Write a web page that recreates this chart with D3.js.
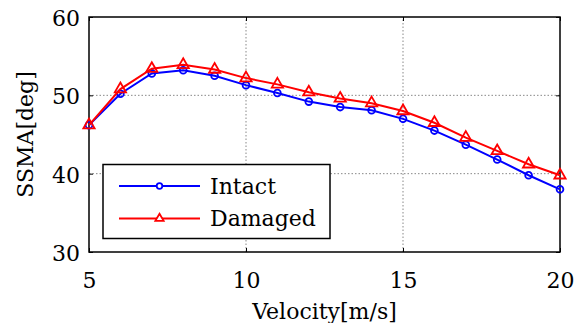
<!DOCTYPE html>
<html><head><meta charset="utf-8">
<script src="https://cdn.jsdelivr.net/npm/d3@7"></script>
</head><body style="margin:0;padding:0;background:#fff">
<svg id="chart" width="581" height="323" font-family="DejaVu Serif" font-size="22"></svg>
<script>
const velocity = [5,6,7,8,9,10,11,12,13,14,15,16,17,18,19,20];
const intact   = [46.2,50.2,52.8,53.2,52.5,51.3,50.3,49.2,48.5,48.1,47.0,45.5,43.7,41.8,39.8,38.0];
const damaged  = [46.2,50.8,53.4,53.9,53.3,52.2,51.4,50.4,49.6,49.0,48.0,46.5,44.6,42.9,41.2,39.8];
const xTicks = [5,10,15,20];
const yTicks = [30,40,50,60];
const seriesNames = ["Intact","Damaged"];
const seriesColors = ["#0000ff","#ff0000"];

const W=581,H=323;
const m={l:89,r:21,t:17,b:71};
const svg=d3.select("#chart");
const x=d3.scaleLinear().domain([5,20]).range([m.l,W-m.r]);
const y=d3.scaleLinear().domain([30,60]).range([H-m.b,m.t]);
function txt(sel){ return sel.attr("font-family","DejaVu Serif").attr("font-size",22).attr("fill","#000"); }

// grid
svg.selectAll(".gx").data(xTicks.slice(1,-1)).enter().append("line")
 .attr("x1",d=>x(d)).attr("x2",d=>x(d)).attr("y1",y(30)).attr("y2",y(60))
 .attr("stroke","#888").attr("stroke-width",1).attr("stroke-dasharray","1.5,2");
svg.selectAll(".gy").data(yTicks.slice(1,-1)).enter().append("line")
 .attr("y1",d=>y(d)).attr("y2",d=>y(d)).attr("x1",x(5)).attr("x2",x(20))
 .attr("stroke","#888").attr("stroke-width",1).attr("stroke-dasharray","1.5,2");

// axes
const xa=d3.axisBottom(x).tickValues(xTicks).tickSize(-4).tickPadding(20).tickFormat(d3.format("d"));
const ya=d3.axisLeft(y).tickValues(yTicks).tickSize(-4).tickPadding(9).tickFormat(d3.format("d"));
const xg=svg.append("g").attr("transform",`translate(0,${y(30)})`).call(xa);
const yg=svg.append("g").attr("transform",`translate(${x(5)},0)`).call(ya);
svg.append("g").attr("transform",`translate(0,${y(60)})`).call(d3.axisTop(x).tickValues(xTicks).tickSize(-4).tickFormat(""));
svg.append("g").attr("transform",`translate(${x(20)},0)`).call(d3.axisRight(y).tickValues(yTicks).tickSize(-4).tickFormat(""));
svg.selectAll(".domain").remove();
svg.selectAll("g").attr("font-family","DejaVu Serif").attr("font-size",22);
svg.selectAll(".tick line").attr("stroke","#000").attr("stroke-width",1);
txt(svg.selectAll(".tick text"));
yg.selectAll(".tick text").attr("dy","0.38em");
svg.append("rect").attr("x",x(5)).attr("y",y(60)).attr("width",x(20)-x(5)).attr("height",y(30)-y(60))
 .attr("fill","none").attr("stroke","#000").attr("stroke-width",1.5);

// lines
const data=[intact,damaged];
const line=d3.line().x((d,i)=>x(velocity[i])).y(d=>y(d));
const tri=d3.symbol().type(d3.symbolTriangle).size(55);
const triS=d3.symbol().type(d3.symbolTriangle).size(30);
data.forEach((s,k)=>{
  svg.append("path").datum(s).attr("d",line).attr("fill","none").attr("stroke",seriesColors[k]).attr("stroke-width",2);
  if(k===0){
    svg.selectAll(".c").data(s).enter().append("circle").attr("cx",(d,i)=>x(velocity[i])).attr("cy",d=>y(d))
      .attr("r",3.4).attr("fill","none").attr("stroke",seriesColors[k]).attr("stroke-width",1.8);
  } else {
    svg.selectAll(".t").data(s).enter().append("path").attr("d",tri)
      .attr("transform",(d,i)=>`translate(${x(velocity[i])},${y(d)})`)
      .attr("fill","none").attr("stroke",seriesColors[k]).attr("stroke-width",1.8);
  }
});

// labels
txt(svg.append("text").attr("x",(x(5)+x(20))/2).attr("y",319).attr("text-anchor","middle")).text("Velocity[m/s]");
txt(svg.append("text").attr("transform",`translate(33,${(y(30)+y(60))/2}) rotate(-90)`).attr("text-anchor","middle")).text("SSMA[deg]");

// legend
const lg=svg.append("g");
lg.append("rect").attr("x",103).attr("y",164.5).attr("width",227).attr("height",74)
 .attr("fill","#fff").attr("stroke","#000").attr("stroke-width",1.5);
seriesNames.forEach((n,k)=>{
  const yy=186+k*32.5;
  lg.append("line").attr("x1",119).attr("x2",200).attr("y1",yy).attr("y2",yy).attr("stroke",seriesColors[k]).attr("stroke-width",2);
  if(k===0) lg.append("circle").attr("cx",159.5).attr("cy",yy).attr("r",2.8).attr("fill","#fff").attr("stroke",seriesColors[k]).attr("stroke-width",1.8);
  else lg.append("path").attr("d",triS).attr("transform",`translate(159.5,${yy})`).attr("fill","#fff").attr("stroke",seriesColors[k]).attr("stroke-width",1.8);
  txt(lg.append("text").attr("x",210).attr("y",yy).attr("dy","0.35em")).text(n);
});
</script>
</body></html>
